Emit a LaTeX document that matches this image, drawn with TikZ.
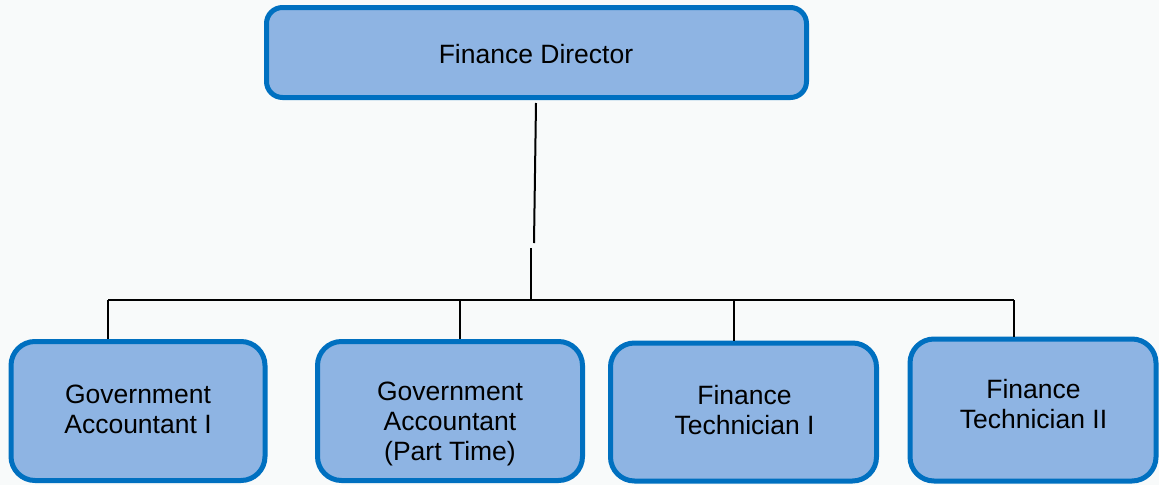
\documentclass[tikz,border=0pt]{standalone}
\usepackage{fontspec}
\setmainfont{Liberation Sans}
\usepackage{xcolor}
\usepackage{tikz}
\usetikzlibrary{positioning}
\definecolor{pagebg}{RGB}{248,250,250}
\definecolor{postfill}{RGB}{142,180,227}
\definecolor{postedge}{RGB}{0,112,192}

\begin{document}
\begin{tikzpicture}[
    x=1pt, y=-1pt,
    head/.style={rectangle, draw=postedge, fill=postfill, line width=5pt, rounded corners=16pt, minimum width=540pt, minimum height=90pt, inner sep=0pt},
    post/.style={rectangle, draw=postedge, fill=postfill, line width=5pt, rounded corners=24pt, inner sep=0pt},
    posttext/.style={font=\fontsize{26.5}{30}\selectfont, align=center, inner sep=0pt},
    link/.style={line width=2pt, black}
]

% page
\fill[pagebg] (0,0) rectangle (1159,485);
\useasboundingbox (0,0) rectangle (1159,485);

% director
\node[head] (dir) at (536.5,52.5) {};
\node[posttext] (dir-txt) at (536,54) {Finance Director};

% staff boxes
\node[post, minimum width=254pt, minimum height=139pt] (ga1) at (138,411) {};
\node[post, minimum width=265pt, minimum height=139pt] (ga2) at (450,411) {};
\node[post, minimum width=266pt, minimum height=138pt] (ft1) at (743.5,412) {};
\node[post, minimum width=246pt, minimum height=142pt] (ft2) at (1033,410) {};

\node[posttext] (ga1-txt) at (138,409) {Government\\Accountant I};
\node[posttext] (ga2-txt) at (450,424) {Government\\Accountant\\(Part Time)};
\node[posttext] (ft1-txt) at (744.5,410.5) {Finance\\Technician I};
\node[posttext] (ft2-txt) at (1033.5,404) {Finance\\Technician II};

% bus
\coordinate (top1) at (536,103);
\coordinate (top2) at (534,243);
\coordinate (mid) at (531,248);
\coordinate (hub) at (531,300);
\coordinate (busl) at (108,300);
\coordinate (busr) at (1014,300);
\coordinate (d2) at (460,300);
\coordinate (d3) at (734,300);

\draw[link] (top1) -- (top2);
\draw[link] (mid) -- (hub);
\draw[link] (busl) -- (busr);
\draw[link] (busl) -- (busl |- ga1.north);
\draw[link] (d2) -- (d2 |- ga2.north);
\draw[link] (d3) -- (d3 |- ft1.north);
\draw[link] (busr) -- (busr |- ft2.north);

\end{tikzpicture}
\end{document}
